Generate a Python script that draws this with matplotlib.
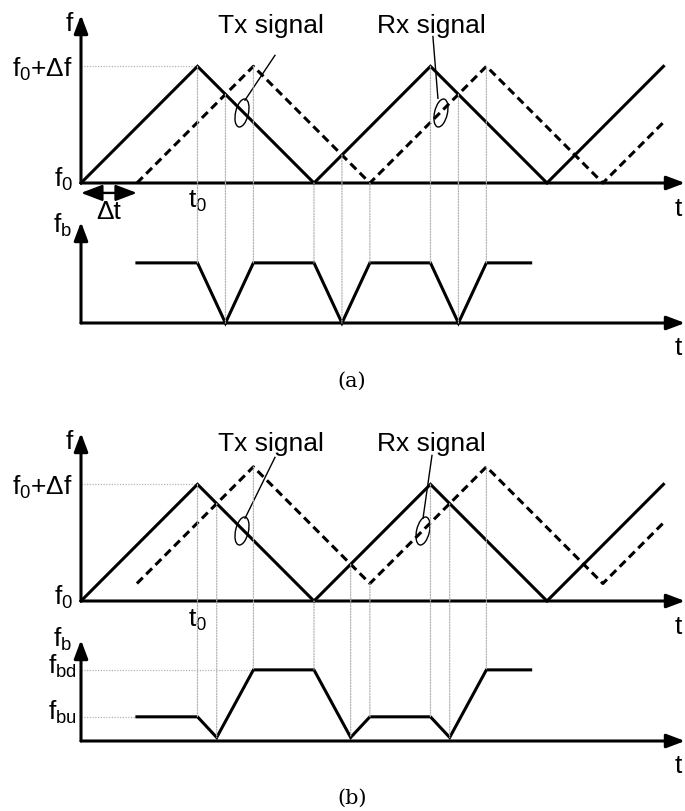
import numpy as np
import matplotlib
matplotlib.use("Agg")
import matplotlib.pyplot as plt
from matplotlib.patches import Ellipse, ConnectionPatch

# ---------------- data (time in half-sweep units, freq in units of delta f) -------------
TX_T = [0, 1, 2, 3, 4, 5]
TX_F = [0, 1, 0, 1, 0, 1]

RXA_T = [0.48, 1.48, 2.48, 3.48, 4.48, 5.0]
RXA_F = [0, 1, 0, 1, 0, 0.52]

RXB_T = [0.48, 1.48, 2.48, 3.48, 4.48, 5.0]
RXB_F = [0.15, 1.15, 0.15, 1.15, 0.15, 0.67]

BA_T = [0.48, 1.0, 1.24, 1.48, 2.0, 2.24, 2.48, 3.0, 3.24, 3.48, 3.86]
BA_F = [1, 1, 0, 1, 1, 0, 1, 1, 0, 1, 1]

BB_T = [0.48, 1.0, 1.165, 1.48, 2.0, 2.315, 2.48, 3.0, 3.165, 3.48, 3.86]
BB_F = [0.34, 0.34, 0.05, 1, 1, 0.05, 0.34, 0.34, 0.05, 1, 1]
FBU = 0.34
FBD = 1.0
DELTA_T = 0.48
T_END = 5.185

# ---------------- style ----------------
plt.rcParams['font.family'] = ['Liberation Sans', 'DejaVu Sans']
plt.rcParams['mathtext.fontset'] = 'custom'
plt.rcParams['mathtext.rm'] = 'Liberation Sans'
plt.rcParams['mathtext.it'] = 'Liberation Sans'
plt.rcParams['mathtext.bf'] = 'Liberation Sans:bold'
plt.rcParams['mathtext.default'] = 'regular'

W, H = 685, 811
fig = plt.figure(figsize=(W / 100, H / 100), dpi=100)
FS = 19
LW = 2.2
GUIDE = dict(color='#b4b4b4', lw=0.9, linestyle=(0, (1, 1.2)), zorder=1)


def panel(base_px, top_px, ytop):
    ax = fig.add_axes([81 / W, 1 - base_px / H, (W - 81) / W, (base_px - top_px) / H])
    ax.set_xlim(0, T_END)
    ax.set_ylim(0, ytop)
    ax.axis('off')
    arrow = dict(arrowstyle='-|>,head_length=0.85,head_width=0.32', lw=LW,
                 color='black', shrinkA=0, shrinkB=0, mutation_scale=13)
    ax.annotate('', xy=(T_END, 0), xytext=(0, 0), arrowprops=arrow,
                annotation_clip=False, zorder=5)
    ax.annotate('', xy=(0, ytop), xytext=(0, 0), arrowprops=arrow,
                annotation_clip=False, zorder=5)
    return ax


def top_panel(ax, rx_t, rx_f, ell_tx, ell_rx, lead_tx, lead_rx):
    ax.plot(TX_T, TX_F, color='black', lw=LW, clip_on=False, zorder=4,
            solid_joinstyle='miter')
    ax.plot(rx_t, rx_f, color='black', lw=LW, clip_on=False, zorder=4,
            linestyle=(0, (2.7, 1.6)), dash_capstyle='butt')
    ax.plot([0, 1], [1, 1], clip_on=False, **GUIDE)
    for (cx, cy) in (ell_tx, ell_rx):
        ax.add_patch(Ellipse((cx, cy), 0.11, 0.245, angle=-13, fill=False,
                             lw=1.0, color='black', clip_on=False, zorder=6))
    for (x0, y0, x1, y1) in (lead_tx, lead_rx):
        ax.plot([x0, x1], [y0, y1], color='black', lw=1.0, clip_on=False, zorder=6)
    ax.text(1.631, 1.29, 'Tx signal', fontsize=FS, ha='center', va='baseline')
    ax.text(3.009, 1.29, 'Rx signal', fontsize=FS, ha='center', va='baseline')
    ax.text(-0.07, 1.30, 'f', fontsize=FS, ha='right', va='baseline')
    ax.text(-0.07, 0.906, r'f$_0$+Δf', fontsize=FS, ha='right', va='baseline')
    ax.text(-0.07, -0.03, r'f$_0$', fontsize=FS, ha='right', va='baseline')
    ax.text(T_END - 0.06, -0.28, 't', fontsize=FS, ha='center', va='baseline')


def guides(ax_top, ax_bot, rx_t, rx_f, b_t, b_f):
    for t in b_t[1:-1]:
        if any(abs(t - v) < 1e-9 for v in TX_T):
            ftop = np.interp(t, TX_T, TX_F)
        else:
            ftop = np.interp(t, rx_t, rx_f)
        fb = np.interp(t, b_t, b_f)
        cp = ConnectionPatch(xyA=(t, ftop), coordsA=ax_top.transData,
                             xyB=(t, fb), coordsB=ax_bot.transData, **GUIDE)
        fig.add_artist(cp)


# ---------------- panel (a) ----------------
axA = panel(183, 15, 1.44)
top_panel(axA, RXA_T, RXA_F, (1.382, 0.60), (3.09, 0.60),
          (1.665, 1.094, 1.408, 0.71), (3.021, 1.256, 3.064, 0.726))
axA.annotate('', xy=(DELTA_T, -0.085), xytext=(0, -0.085),
             arrowprops=dict(arrowstyle='<|-|>,head_length=1.0,head_width=0.38',
                             lw=1.7, color='black', shrinkA=0, shrinkB=0,
                             mutation_scale=13), annotation_clip=False)
axA.text(DELTA_T / 2, -0.31, 'Δt', fontsize=FS, ha='center', va='baseline')
axA.text(0.918, -0.215, r't$_0$', fontsize=FS, ha='left', va='baseline')

axAb = panel(323, 222, 1.68)
axAb.plot(BA_T, BA_F, color='black', lw=LW, clip_on=False, zorder=4,
          solid_joinstyle='miter')
axAb.text(-0.077, 1.5, r'f$_b$', fontsize=FS, ha='right', va='baseline')
axAb.text(T_END - 0.06, -0.53, 't', fontsize=FS, ha='center', va='baseline')
guides(axA, axAb, RXA_T, RXA_F, BA_T, BA_F)

# ---------------- panel (b) ----------------
axB = panel(601, 433, 1.44)
top_panel(axB, RXB_T, RXB_F, (1.382, 0.60), (2.936, 0.60),
          (1.665, 1.231, 1.408, 0.709), (3.013, 1.248, 2.936, 0.709))
axB.text(0.918, -0.222, r't$_0$', fontsize=FS, ha='left', va='baseline')

axBb = panel(741, 640, 1.42)
axBb.plot(BB_T, BB_F, color='black', lw=LW, clip_on=False, zorder=4,
          solid_joinstyle='miter')
axBb.plot([0, 1.48], [FBD, FBD], clip_on=False, **GUIDE)
axBb.plot([0, DELTA_T], [FBU, FBU], clip_on=False, **GUIDE)
axBb.text(-0.077, 1.32, r'f$_b$', fontsize=FS, ha='right', va='baseline')
axBb.text(-0.034, 0.95, r'f$_{bd}$', fontsize=FS, ha='right', va='baseline')
axBb.text(-0.034, 0.30, r'f$_{bu}$', fontsize=FS, ha='right', va='baseline')
axBb.text(T_END - 0.06, -0.45, 't', fontsize=FS, ha='center', va='baseline')
guides(axB, axBb, RXB_T, RXB_F, BB_T, BB_F)

# captions
fig.text(352 / W, 1 - 381 / H, '(a)', fontsize=15, family='DejaVu Serif',
         ha='center', va='center')
fig.text(352 / W, 1 - 798 / H, '(b)', fontsize=15, family='DejaVu Serif',
         ha='center', va='center')

fig.savefig('out.png', dpi=100, facecolor='white')
